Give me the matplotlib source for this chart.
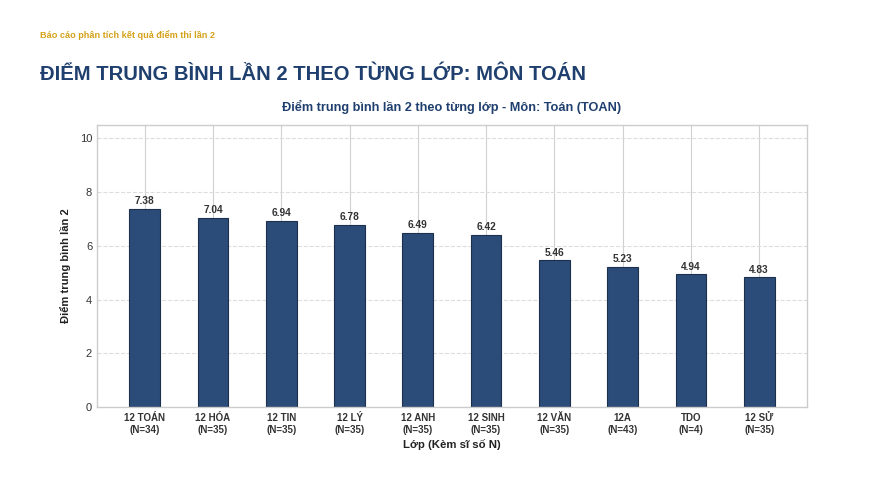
import matplotlib
matplotlib.use("Agg")
import matplotlib.pyplot as plt

plt.rcParams['font.family'] = ['Liberation Sans', 'DejaVu Sans']

classes = ["12 TOÁN", "12 HÓA", "12 TIN", "12 LÝ", "12 ANH", "12 SINH", "12 VĂN", "12A", "TDO", "12 SỬ"]
counts = [34, 35, 35, 35, 35, 35, 35, 43, 4, 35]
scores = [7.38, 7.04, 6.94, 6.78, 6.49, 6.42, 5.46, 5.23, 4.94, 4.83]

labels = [c + "\n(N=" + str(n) + ")" for c, n in zip(classes, counts)]
x = list(range(len(classes)))

fig = plt.figure(figsize=(8.7, 4.87), dpi=100)
fig.text(0.046, 0.922, "Báo cáo phân tích kết quả điểm thi lần 2", color="#d4a21a",
         fontsize=6.6, fontweight="bold")
fig.text(0.046, 0.835, "ĐIỂM TRUNG BÌNH LẦN 2 THEO TỪNG LỚP: MÔN TOÁN", color="#1f3f6e",
         fontsize=14.6, fontweight="bold")

ax = fig.add_axes([0.1115, 0.1643, 0.816, 0.579])
ax.set_axisbelow(True)
ax.grid(axis='x', color="#d0d0d0", linewidth=0.8, linestyle='-')
ax.grid(axis='y', color="#dddddd", linewidth=0.8, linestyle='--')
bars = ax.bar(x, scores, width=0.45, color="#2b4b78", edgecolor="#1c2f4d", linewidth=0.8)
for xi, s in zip(x, scores):
    ax.text(xi, s + 0.1, f"{s:.2f}", ha='center', va='bottom', fontsize=7.3, fontweight='bold', color="#333333")

ax.set_xlim(-0.7, 9.7)
ax.set_ylim(0, 10.5)
ax.set_yticks([0, 2, 4, 6, 8, 10])
ax.set_xticks(x)
ax.set_xticklabels(labels, fontsize=7, fontweight='bold', color="#333333", linespacing=1.25)
ax.tick_params(axis='y', labelsize=8, colors="#333333", length=0)
ax.tick_params(axis='x', length=0, pad=4)
for sp in ax.spines.values():
    sp.set_color("#cccccc")
    sp.set_linewidth(1.0)

ax.set_title("Điểm trung bình lần 2 theo từng lớp - Môn: Toán (TOAN)", fontsize=9.2,
             fontweight='bold', color="#1f3f6e", pad=10)
ax.set_xlabel("Lớp (Kèm sĩ số N)", fontsize=8.2, fontweight='bold', color="#222222", labelpad=3)
ax.set_ylabel("Điểm trung bình lần 2", fontsize=8, fontweight='bold', color="#222222", labelpad=6)

fig.savefig("out.png", dpi=100)
